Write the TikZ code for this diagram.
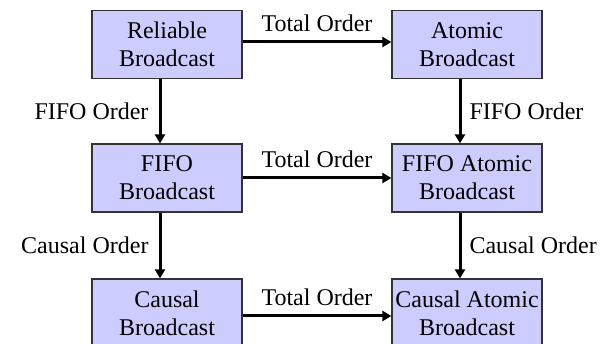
\documentclass[tikz,border=0pt]{standalone}
\usepackage{fontspec}
\setmainfont{Liberation Serif}
\usetikzlibrary{arrows.meta}
\definecolor{boxfill}{HTML}{CCCCFF}
\definecolor{boxline}{HTML}{333333}
\tikzset{
  bcast/.style={draw=boxline, line width=1.2pt, fill=boxfill, minimum width=150pt, minimum height=68pt,
    inner sep=2pt, align=center, font=\fontsize{24}{28}\selectfont},
  arr/.style={line width=3pt, -{Triangle[length=9pt,width=10pt]}},
  lbl/.style={inner sep=0pt, font=\fontsize{24}{28}\selectfont},
}
\begin{document}
\begin{tikzpicture}[x=1pt,y=-1pt]
\useasboundingbox (0,0) rectangle (608,344);
\clip (0,0) rectangle (608,344);
\node[bcast] (rb) at (167,44.5) {Reliable\\Broadcast};
\node[bcast] (ab) at (467,44.5) {Atomic\\Broadcast};
\node[bcast] (fb) at (167,178) {FIFO\\Broadcast};
\node[bcast] (fab) at (467,178) {FIFO Atomic\\Broadcast};
\node[bcast] (cb) at (167,313) {Causal\\Broadcast};
\node[bcast] (cab) at (467,313) {Causal Atomic\\Broadcast};
% horizontal
\draw[arr] ([yshift=2.5pt]rb.east) -- node[lbl, anchor=base, yshift=10pt] {Total Order} ([yshift=2.5pt]ab.west);
\draw[arr] (fb.east) -- node[lbl, anchor=base, yshift=10pt] {Total Order} (fab.west);
\draw[arr] ([yshift=-3pt]cb.east) -- node[lbl, anchor=base, yshift=10pt] {Total Order} ([yshift=-3pt]cab.west);
% vertical
\draw[arr] ([xshift=-7pt]rb.south) -- node[lbl, anchor=east, xshift=-10pt] {FIFO Order} ([xshift=-7pt]fb.north);
\draw[arr] ([xshift=-7pt]ab.south) -- node[lbl, anchor=west, xshift=8pt] {FIFO Order} ([xshift=-7pt]fab.north);
\draw[arr] ([xshift=-7pt]fb.south) -- node[lbl, anchor=east, xshift=-10pt] {Causal Order} ([xshift=-7pt]cb.north);
\draw[arr] ([xshift=-7pt]fab.south) -- node[lbl, anchor=west, xshift=8pt] {Causal Order} ([xshift=-7pt]cab.north);
\end{tikzpicture}
\end{document}
